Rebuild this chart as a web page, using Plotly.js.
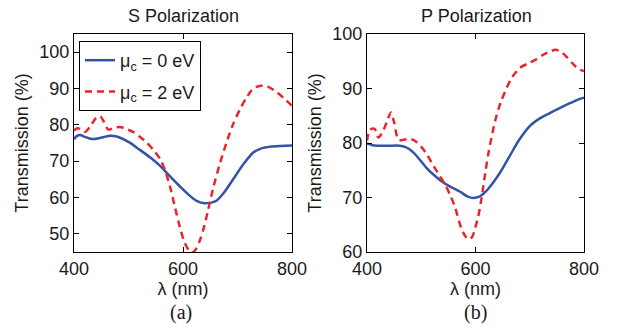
<!DOCTYPE html>
<html>
<head>
<meta charset="utf-8">
<script src="https://cdn.plot.ly/plotly-3.0.1.min.js"></script>
<style>html,body{margin:0;padding:0;background:#fff;}#chart{width:620px;height:329px;}</style>
</head>
<body>
<div id="chart"></div>
<script>
// ---- Data ----
const sLambdaBlue = [400,405,411,420,432,445,466,480,500,520,540,558,575,594,610,625,640,652,662,675,692,710,729,745,760,780,800];
const sBlue = [76.0,76.9,77.2,76.7,76.1,76.3,77.0,76.7,75.3,73.2,71.0,68.7,66.0,63.1,60.8,59.1,58.4,58.6,59.2,61.3,65.0,69.0,72.4,73.6,74.0,74.2,74.3];

const sLambdaRed = [400,405,411,420,430,440,448,455,463,472,484,495,509,520,533,545,558,567,576,585,594,602,610,616,622,630,637,646,656,668,680,692,705,717,729,740,750,760,772,786,800];
const sRed = [78.4,79.0,78.9,78.0,79.6,81.8,82.4,80.8,78.7,79.1,79.4,78.9,78.0,76.8,75.2,73.2,70.6,67.5,63.1,57.5,52.0,48.0,45.6,44.8,45.4,47.8,51.0,56.5,63.0,69.5,75.2,80.2,84.4,87.6,90.0,90.7,90.7,90.2,89.0,87.2,85.2];

const pLambdaBlue = [400,410,420,440,460,470,479,490,500,510,525,540,555,571,585,596,608,620,633,648,663,680,700,720,737,755,774,790,800];
const pBlue = [79.9,79.6,79.5,79.5,79.5,79.3,78.8,77.8,76.6,75.4,74.0,72.8,71.9,71.1,70.2,69.9,70.2,71.2,72.8,75.0,77.6,80.5,83.1,84.6,85.5,86.4,87.3,88.0,88.3];

const pLambdaRed = [400,405,414,421,430,437,444,450,458,468,479,488,500,510,519,530,544,553,562,574,582,588,594,599,605,611,618,624,636,646,657,667,682,697,713,725,737,748,758,768,778,786,793,800];
const pRed = [80.4,82.4,82.6,81.0,82.3,84.0,85.6,83.8,80.6,80.6,80.8,80.4,79.3,78.0,76.4,74.6,72.4,70.5,68.3,64.3,62.8,62.3,62.8,64.3,66.5,69.8,74.5,78.2,84.0,87.3,90.0,92.0,93.8,94.6,95.4,96.2,96.8,97.1,96.7,95.8,94.7,93.9,93.4,93.2];

const legendNames = ['\u03bc<sub>c</sub> = 0 eV', '\u03bc<sub>c</sub> = 2 eV'];
const panelTitles = ['S Polarization', 'P Polarization'];
const panelLabels = ['(a)', '(b)'];
const xTicks = [400, 600, 800];
const sTicks = [50, 60, 70, 80, 90, 100];
const pTicks = [60, 70, 80, 90, 100];

// ---- Styles ----
const BLUE = '#3553a6';
const RED = '#e8262d';
const FONT = 'Liberation Sans, Arial, Helvetica, sans-serif';
const TXT = '#1a1a1a';
const FS = 18;

const traces = [
  {x: sLambdaBlue, y: sBlue, xaxis: 'x', yaxis: 'y', name: legendNames[0], mode: 'lines',
   line: {color: BLUE, width: 2.5, shape: 'spline', smoothing: 0.8}, legendgroup: 'a'},
  {x: sLambdaRed, y: sRed, xaxis: 'x', yaxis: 'y', name: legendNames[1], mode: 'lines',
   line: {color: RED, width: 2.5, dash: '7px,5px', shape: 'spline', smoothing: 0.8}, legendgroup: 'b'},
  {x: pLambdaBlue, y: pBlue, xaxis: 'x2', yaxis: 'y2', name: legendNames[0], mode: 'lines', showlegend: false,
   line: {color: BLUE, width: 2.5, shape: 'spline', smoothing: 0.8}},
  {x: pLambdaRed, y: pRed, xaxis: 'x2', yaxis: 'y2', name: legendNames[1], mode: 'lines', showlegend: false,
   line: {color: RED, width: 2.5, dash: '7px,5px', shape: 'spline', smoothing: 0.8}}
];

const W = 620, H = 329;
const yDom = [1 - 252 / H, 1 - 34 / H];
function xAxis(dom, anchor) {
  return {
    domain: dom, anchor: anchor, range: [400, 800], tickmode: 'array', tickvals: xTicks,
    ticks: 'inside', ticklen: 5, tickcolor: '#000', showline: true, linecolor: '#000', linewidth: 1,
    mirror: 'ticks', showgrid: false, zeroline: false,
    tickfont: {family: FONT, size: FS, color: TXT},
    title: {text: '\u03bb (nm)', font: {family: FONT, size: FS, color: TXT}, standoff: 0}
  };
}
function yAxis(range, ticks, anchor, standoff) {
  return {
    domain: yDom, anchor: anchor, range: range, tickmode: 'array', tickvals: ticks,
    ticks: 'inside', ticklen: 5, tickcolor: '#000', showline: true, linecolor: '#000', linewidth: 1,
    mirror: 'ticks', showgrid: false, zeroline: false,
    tickfont: {family: FONT, size: FS, color: TXT},
    title: {text: 'Transmission (%)', font: {family: FONT, size: FS, color: TXT}, standoff: standoff}
  };
}

const layout = {
  width: W, height: H,
  margin: {l: 0, r: 0, t: 0, b: 0},
  paper_bgcolor: '#fff', plot_bgcolor: '#fff',
  font: {family: FONT, color: TXT},
  xaxis: xAxis([74 / W, 292 / W], 'y'),
  yaxis: yAxis([45, 105], sTicks, 'x', 6),
  xaxis2: xAxis([367 / W, 584 / W], 'y2'),
  yaxis2: yAxis([60, 100], pTicks, 'x2', 6),
  showlegend: true,
  legend: {
    x: 79 / W, y: 1 - 41 / H, xanchor: 'left', yanchor: 'top',
    bgcolor: '#fff', bordercolor: '#000', borderwidth: 1,
    font: {family: FONT, size: FS, color: TXT},
    traceorder: 'grouped', tracegroupgap: 5, itemwidth: 30
  },
  annotations: [
    {text: panelTitles[0], x: 183 / W, y: 1 - 16 / H, xref: 'paper', yref: 'paper', showarrow: false,
     xanchor: 'center', yanchor: 'middle', font: {family: FONT, size: FS, color: TXT}},
    {text: panelTitles[1], x: 476 / W, y: 1 - 16 / H, xref: 'paper', yref: 'paper', showarrow: false,
     xanchor: 'center', yanchor: 'middle', font: {family: FONT, size: FS, color: TXT}},
    {text: panelLabels[0], x: 181 / W, y: 1 - 312 / H, xref: 'paper', yref: 'paper', showarrow: false,
     xanchor: 'center', yanchor: 'middle', font: {family: 'Liberation Serif, Times New Roman, serif', size: 20, color: TXT}},
    {text: panelLabels[1], x: 475 / W, y: 1 - 312 / H, xref: 'paper', yref: 'paper', showarrow: false,
     xanchor: 'center', yanchor: 'middle', font: {family: 'Liberation Serif, Times New Roman, serif', size: 20, color: TXT}}
  ]
};

Plotly.newPlot('chart', traces, layout, {staticPlot: true, displayModeBar: false});
</script>
</body>
</html>
